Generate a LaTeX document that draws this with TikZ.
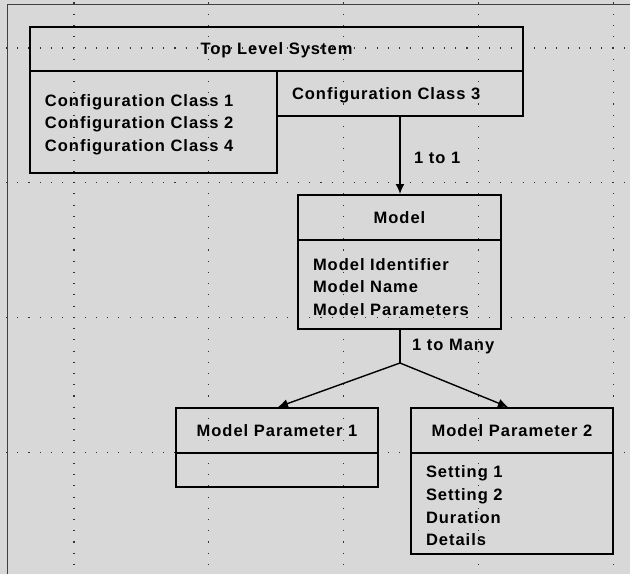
\documentclass[tikz,border=0pt]{standalone}
\usepackage{fontspec}
\newfontfamily\diagfont[LetterSpace=6]{Liberation Sans}
\usetikzlibrary{arrows.meta}
\definecolor{bgcol}{RGB}{216,216,216}
\newcommand{\dfont}{\diagfont\bfseries\fontsize{16.5}{22.7}\selectfont}
\tikzset{
  base/.style={draw=black, line width=2pt, rectangle, inner sep=0pt, font=\dfont},
  box/.style={base, text depth=-1.2pt},
  body/.style={base, align=left, inner xsep=15pt, execute at begin node={\rule{0pt}{17pt}}},
  link/.style={draw=black, line width=1.6pt},
  arr/.style={link, -{Latex[length=10pt,width=9pt]}},
  lbl/.style={font=\dfont, inner sep=0pt, anchor=west},
  griddots/.style={draw=black!80, line width=1.1pt, dash pattern=on 1.1pt off 10.13pt}
}
\begin{document}
\begin{tikzpicture}[x=1pt,y=-1pt]
\useasboundingbox (0,0) rectangle (630,574);
\fill[bgcol] (0,0) rectangle (630,574);
% grid of dots
\foreach \gx in {74,208.8,343.6,478.4,613.2}{
  \draw[griddots] (\gx,2.4) -- (\gx,574);
}
\foreach \gy in {48,182.8,317.6,452.4}{
  \draw[griddots] (6,\gy) -- (630,\gy);
}
% frame
\draw[line width=1pt, black!75] (7,574) -- (7,4) -- (630,4);

% Top level system
\node[box, minimum width=493pt, minimum height=44pt] (tls) at (276.5,49) {Top Level System};
\node[body, minimum width=247pt, minimum height=102pt, text width=217pt] (cfgl) at (153.5,122)
  {Configuration Class 1\\Configuration Class 2\\Configuration Class 4};
\node[box, align=left, inner xsep=15pt, minimum width=246pt, minimum height=45pt, text width=216pt] (cfg3) at (400,93.5)
  {Configuration Class 3};

% Model
\node[box, minimum width=203pt, minimum height=45pt] (mhead) at (399.5,217.5) {Model};
\node[body, minimum width=203pt, minimum height=89pt, text width=173pt] (mbody) at (399.5,284.5)
  {Model Identifier\\Model Name\\Model Parameters};

% Model parameters
\node[box, minimum width=202pt, minimum height=45pt] (mp1h) at (277,430.5) {Model Parameter 1};
\node[base, minimum width=202pt, minimum height=34pt] (mp1b) at (277,470) {};
\node[box, minimum width=202pt, minimum height=45pt] (mp2h) at (512,430.5) {Model Parameter 2};
\node[body, minimum width=202pt, minimum height=101pt, text width=172pt] (mp2b) at (512,503.5)
  {Setting 1\\Setting 2\\Duration\\Details};

% connectors
\draw[arr] (cfg3.south) -- (cfg3.south |- mhead.north);
\node[lbl] (l1) at (414,158) {1 to 1};

\coordinate (j) at (400,363);
\draw[link] (mbody.south -| cfg3.south) -- (j);
\draw[arr, line width=1.4pt] (j) -- ([xshift=1pt]mp1h.north);
\draw[arr, line width=1.4pt] (j) -- ([xshift=-4pt]mp2h.north);
\node[lbl] (l2) at (412,347) {1 to Many};
\end{tikzpicture}
\end{document}
